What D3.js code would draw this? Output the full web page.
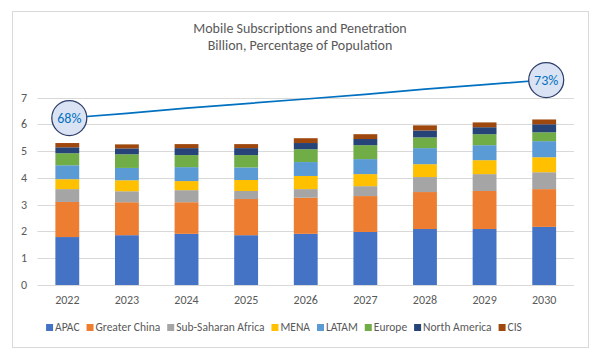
<!DOCTYPE html>
<html>
<head>
<meta charset="utf-8">
<script src="https://cdn.jsdelivr.net/npm/d3@7"></script>
<style>
  body { margin: 0; background: #fff; }
  svg text { font-family: Carlito, "Open Sans", "Liberation Sans", sans-serif; fill: #595959; }
</style>
</head>
<body>
<svg width="601" height="359"></svg>
<script>
// years on the x axis
const years = ['2022', '2023', '2024', '2025', '2026', '2027', '2028', '2029', '2030'];

// subscriptions by region, billions
const apac          = [1.79, 1.86, 1.91, 1.86, 1.91, 1.98, 2.09, 2.09, 2.17];
const greaterChina  = [1.31, 1.23, 1.18, 1.35, 1.35, 1.34, 1.38, 1.42, 1.41];
const subSaharan    = [0.48, 0.41, 0.45, 0.30, 0.32, 0.37, 0.56, 0.63, 0.63];
const mena          = [0.37, 0.41, 0.34, 0.41, 0.49, 0.45, 0.48, 0.52, 0.56];
const latam         = [0.52, 0.46, 0.52, 0.47, 0.52, 0.56, 0.60, 0.56, 0.60];
const europe        = [0.45, 0.51, 0.45, 0.46, 0.48, 0.52, 0.40, 0.41, 0.33];
const northAmerica  = [0.22, 0.22, 0.26, 0.26, 0.23, 0.23, 0.26, 0.26, 0.30];
const cis           = [0.16, 0.15, 0.15, 0.15, 0.18, 0.18, 0.19, 0.18, 0.18];

// penetration, % of population (only ends are labelled, middle estimated)
const penetration = [68.0, 68.6, 69.3, 69.9, 70.5, 71.1, 71.8, 72.4, 73.0];

const regionNames = ['APAC', 'Greater China', 'Sub-Saharan Africa', 'MENA', 'LATAM', 'Europe', 'North America', 'CIS'];
const regionValues = [apac, greaterChina, subSaharan, mena, latam, europe, northAmerica, cis];
const colors = ['#4472c4', '#ed7d31', '#a5a5a5', '#ffc000', '#5b9bd5', '#70ad47', '#264478', '#9e480e'];
const yTicks = [0, 1, 2, 3, 4, 5, 6, 7];

const svg = d3.select('svg');

// chart frame
svg.append('rect').attr('x', 12.5).attr('y', 11.5).attr('width', 576).attr('height', 336)
  .attr('fill', '#fff').attr('stroke', '#d9d9d9');

// title
svg.append('text').attr('x', 300).attr('y', 33).attr('text-anchor', 'middle')
  .style('font-size', '14px').text('Mobile Subscriptions and Penetration');
svg.append('text').attr('x', 300).attr('y', 50).attr('text-anchor', 'middle')
  .style('font-size', '14px').text('Billion, Percentage of Population');

const x = d3.scaleBand().domain(years).range([37.5, 574]).paddingInner(0.6).paddingOuter(0.3);
const y = d3.scaleLinear().domain([0, 7]).range([285, 97.5]);
const y2 = d3.scaleLinear().domain([68, 73]).range([118, 80]);

// gridlines
svg.append('g').selectAll('line').data(yTicks).join('line')
  .attr('x1', 37.5).attr('x2', 574)
  .attr('y1', d => Math.round(y(d)) + 0.5).attr('y2', d => Math.round(y(d)) + 0.5)
  .attr('stroke', '#d9d9d9').attr('stroke-width', 1);

// y labels
svg.append('g').selectAll('text').data(yTicks).join('text')
  .attr('x', 27).attr('y', d => y(d) + 4).attr('text-anchor', 'end')
  .style('font-size', '12px').text(d => d);

// x labels
svg.append('g').selectAll('text').data(years).join('text')
  .attr('x', d => x(d) + x.bandwidth() / 2).attr('y', 304).attr('text-anchor', 'middle')
  .style('font-size', '12px').text(d => d);

// stacked bars
const rows = years.map((yr, i) => {
  const row = { year: yr };
  regionNames.forEach((n, k) => { row[n] = regionValues[k][i]; });
  return row;
});
const stack = d3.stack().keys(regionNames)(rows);

svg.append('g').selectAll('g').data(stack).join('g')
  .attr('fill', (d, i) => colors[i])
  .selectAll('rect').data(d => d).join('rect')
  .attr('x', d => x(d.data.year))
  .attr('width', x.bandwidth())
  .attr('y', d => y(d[1]))
  .attr('height', d => y(d[0]) - y(d[1]));

// penetration line
const line = d3.line().x((d, i) => x(years[i]) + x.bandwidth() / 2).y(d => y2(d));
svg.append('path').datum(penetration).attr('fill', 'none')
  .attr('stroke', '#0070c0').attr('stroke-width', 1.75).attr('d', line);

// labels on first and last points
const ends = [0, penetration.length - 1];
const lab = svg.append('g').selectAll('g').data(ends).join('g')
  .attr('transform', i => `translate(${x(years[i]) + x.bandwidth() / 2 + 2},${y2(penetration[i])})`);
lab.append('circle').attr('r', 17.5).attr('fill', '#dae3f3').attr('stroke', '#2f3f6b').attr('stroke-width', 1.25);
lab.append('text').attr('text-anchor', 'middle').attr('y', 5)
  .style('font-size', '14px').style('fill', '#0070c0')
  .text(i => Math.round(penetration[i]) + '%');

// legend, laid out in one centred row
const legend = svg.append('g');
const items = legend.selectAll('g').data(regionNames).join('g');
items.append('rect').attr('width', 7).attr('height', 7).attr('y', -6).attr('fill', (d, i) => colors[i]);
items.append('text').attr('x', 9).attr('y', 0.5).style('font-size', '11.5px').text(d => d);
let cx = 0;
items.each(function () {
  const w = d3.select(this).select('text').node().getComputedTextLength() + 9;
  d3.select(this).attr('transform', `translate(${cx},0)`);
  cx += w + 7;
});
cx -= 7;
legend.attr('transform', `translate(${(48 + 520) / 2 - cx / 2},330)`);
</script>
</body>
</html>
